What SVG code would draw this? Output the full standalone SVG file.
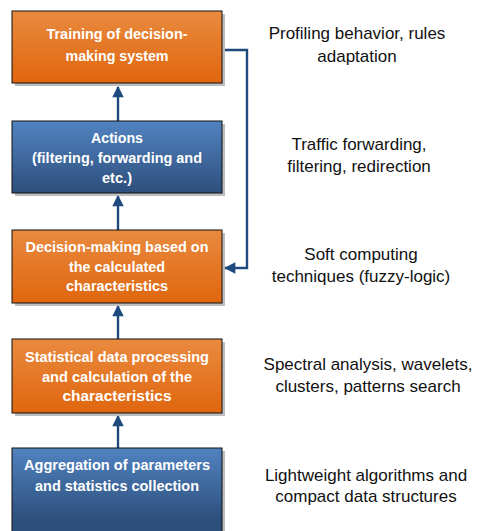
<svg xmlns="http://www.w3.org/2000/svg" width="477" height="531" viewBox="0 0 477 531">
  <defs>
    <linearGradient id="gOrange" x1="0" y1="0" x2="0" y2="1">
      <stop offset="0" stop-color="#E98A3F"/>
      <stop offset="1" stop-color="#E0660E"/>
    </linearGradient>
    <linearGradient id="gBlue" x1="0" y1="0" x2="0" y2="1">
      <stop offset="0" stop-color="#5183C0"/>
      <stop offset="1" stop-color="#2D4F7C"/>
    </linearGradient>
    <linearGradient id="gBlueTall" gradientUnits="userSpaceOnUse" x1="0" y1="448" x2="0" y2="520">
      <stop offset="0" stop-color="#5183C0"/>
      <stop offset="1" stop-color="#2D4F7C"/>
    </linearGradient>
    <marker id="head" viewBox="0 0 10 10" refX="9" refY="5" markerWidth="5" markerHeight="4.8" orient="auto" markerUnits="strokeWidth">
      <path d="M0,0 L10,5 L0,10 z" fill="#1F4A7E"/>
    </marker>
  </defs>
  <style>
    .shadow { fill: #BDBDBD; }
    .box { stroke: #111; stroke-width: 1; }
    .bt { font-family: "Liberation Sans", Arial, sans-serif; font-weight: bold; font-size: 15.5px; fill: #fff; text-anchor: middle; }
    .note { font-family: "Liberation Sans", Arial, sans-serif; font-size: 17px; fill: #111; text-anchor: middle; }
    .link { fill: none; stroke: #1F4A7E; stroke-width: 2.4; }
  </style>

  <g id="connectors">
    <line class="link" x1="118" y1="121" x2="118" y2="87" marker-end="url(#head)"/>
    <line class="link" x1="118" y1="230" x2="118" y2="196" marker-end="url(#head)"/>
    <line class="link" x1="118" y1="339" x2="118" y2="306" marker-end="url(#head)"/>
    <line class="link" x1="118" y1="448" x2="118" y2="416" marker-end="url(#head)"/>
    <polyline class="link" points="222,50 247,50 247,268 225,268" marker-end="url(#head)"/>
  </g>

  <g id="training">
    <rect class="shadow" x="15" y="14" width="210" height="72"/>
    <rect class="box" x="12" y="11" width="210" height="72" fill="url(#gOrange)"/>
    <text class="bt"><tspan x="117" y="39" textLength="141" lengthAdjust="spacingAndGlyphs">Training of decision-</tspan><tspan x="117" y="61" textLength="103" lengthAdjust="spacingAndGlyphs">making system</tspan></text>
  </g>

  <g id="actions">
    <rect class="shadow" x="15" y="124" width="210" height="72"/>
    <rect class="box" x="12" y="121" width="210" height="72" fill="url(#gBlue)"/>
    <text class="bt"><tspan x="117" y="143" textLength="52" lengthAdjust="spacingAndGlyphs">Actions</tspan><tspan x="117" y="163" textLength="170" lengthAdjust="spacingAndGlyphs">(filtering, forwarding and</tspan><tspan x="117" y="183" textLength="30" lengthAdjust="spacingAndGlyphs">etc.)</tspan></text>
  </g>

  <g id="decision">
    <rect class="shadow" x="15" y="233" width="210" height="73"/>
    <rect class="box" x="12" y="230" width="210" height="73" fill="url(#gOrange)"/>
    <text class="bt"><tspan x="117" y="252" textLength="183" lengthAdjust="spacingAndGlyphs">Decision-making based on</tspan><tspan x="117" y="272" textLength="96" lengthAdjust="spacingAndGlyphs">the calculated</tspan><tspan x="117" y="291" textLength="102" lengthAdjust="spacingAndGlyphs">characteristics</tspan></text>
  </g>

  <g id="statistics">
    <rect class="shadow" x="15" y="342" width="210" height="74"/>
    <rect class="box" x="12" y="339" width="210" height="74" fill="url(#gOrange)"/>
    <text class="bt"><tspan x="117" y="362" textLength="184" lengthAdjust="spacingAndGlyphs">Statistical data processing</tspan><tspan x="117" y="382" textLength="150" lengthAdjust="spacingAndGlyphs">and calculation of the</tspan><tspan x="117" y="401" textLength="109" lengthAdjust="spacingAndGlyphs">characteristics</tspan></text>
  </g>

  <g id="aggregation">
    <rect class="shadow" x="15" y="451" width="210" height="90"/>
    <rect class="box" x="12" y="448" width="210" height="92" fill="url(#gBlueTall)"/>
    <text class="bt"><tspan x="117" y="470" textLength="186" lengthAdjust="spacingAndGlyphs">Aggregation of parameters</tspan><tspan x="117" y="491" textLength="164" lengthAdjust="spacingAndGlyphs">and statistics collection</tspan></text>
  </g>

  <g id="notes">
    <text class="note"><tspan x="357" y="39">Profiling behavior, rules</tspan><tspan x="357" y="62">adaptation</tspan></text>
    <text class="note"><tspan x="359" y="150">Traffic forwarding,</tspan><tspan x="359" y="172">filtering, redirection</tspan></text>
    <text class="note"><tspan x="361" y="260">Soft computing</tspan><tspan x="361" y="282">techniques (fuzzy-logic)</tspan></text>
    <text class="note"><tspan x="368" y="370">Spectral analysis, wavelets,</tspan><tspan x="368" y="392">clusters, patterns search</tspan></text>
    <text class="note"><tspan x="366" y="481">Lightweight algorithms and</tspan><tspan x="366" y="502">compact data structures</tspan></text>
  </g>
</svg>
